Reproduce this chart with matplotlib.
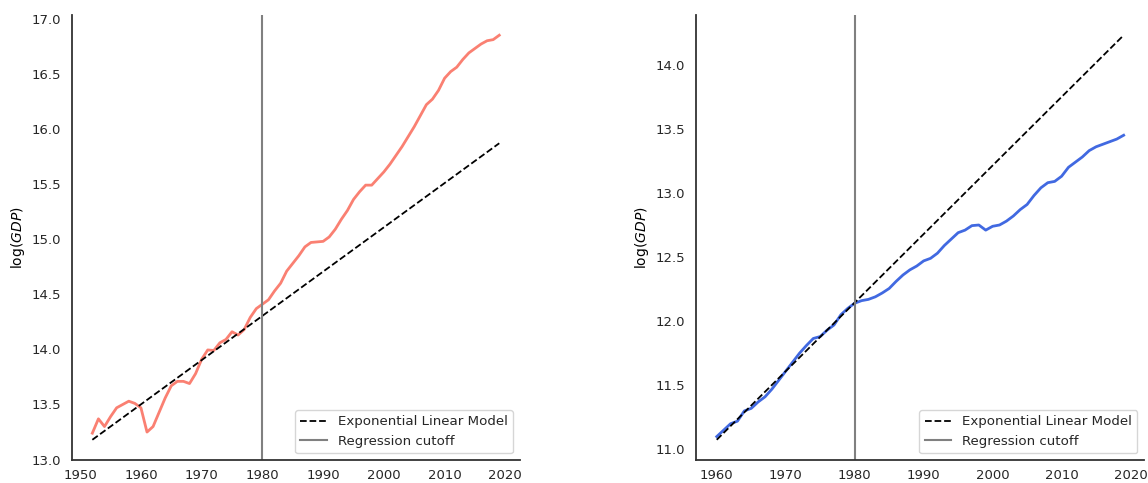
import numpy as np
import matplotlib
matplotlib.use("Agg")
import matplotlib.pyplot as plt

# left panel: log GDP 1952-2019
years_a = np.arange(1952, 2020)
log_gdp_a = [13.24, 13.37, 13.30, 13.39, 13.47, 13.50, 13.53, 13.51, 13.47, 13.25,
             13.30, 13.43, 13.56, 13.67, 13.71, 13.71, 13.69, 13.78, 13.91, 13.995,
             13.99, 14.06, 14.09, 14.16, 14.13, 14.18, 14.29, 14.37, 14.41, 14.45,
             14.53, 14.60, 14.71, 14.78, 14.85, 14.93, 14.97, 14.975, 14.98, 15.02,
             15.09, 15.18, 15.26, 15.36, 15.43, 15.49, 15.49, 15.55, 15.61, 15.68,
             15.76, 15.84, 15.93, 16.02, 16.12, 16.22, 16.27, 16.35, 16.46, 16.52,
             16.56, 16.63, 16.69, 16.73, 16.77, 16.80, 16.81, 16.85]
trend_years_a = [1952, 2019]
trend_a = [13.18, 15.87]

# right panel: log GDP 1960-2019
years_b = np.arange(1960, 2020)
log_gdp_b = [11.10, 11.15, 11.20, 11.22, 11.30, 11.32, 11.37, 11.41, 11.47, 11.54,
             11.61, 11.68, 11.75, 11.81, 11.865, 11.88, 11.93, 11.97, 12.05, 12.10,
             12.14, 12.16, 12.17, 12.19, 12.22, 12.255, 12.31, 12.36, 12.40, 12.43,
             12.47, 12.49, 12.53, 12.59, 12.64, 12.69, 12.71, 12.745, 12.75, 12.71,
             12.74, 12.75, 12.78, 12.82, 12.87, 12.91, 12.98, 13.04, 13.08, 13.09,
             13.13, 13.20, 13.24, 13.28, 13.33, 13.36, 13.38, 13.40, 13.42, 13.45]
trend_years_b = [1960, 2019]
trend_b = [11.075, 14.23]

cutoff = 1980

plt.rcParams['font.family'] = ['DejaVu Sans']
plt.rcParams['mathtext.fontset'] = 'dejavusans'

fig, axes = plt.subplots(1, 2, figsize=(11.48, 4.83), dpi=100)
fig.subplots_adjust(left=72/1148, right=1144/1148, top=1-15/483, bottom=1-460/483, wspace=0.395)

panels = [
    (axes[0], years_a, log_gdp_a, trend_years_a, trend_a, '#FA8072', np.arange(13.0, 17.01, 0.5)),
    (axes[1], years_b, log_gdp_b, trend_years_b, trend_b, '#4169E1', np.arange(11.0, 14.01, 0.5)),
]

for ax, yrs, vals, ty, tv, col, yt in panels:
    ax.plot(yrs, vals, color=col, lw=2)
    ax.plot(ty, tv, color='black', ls='--', lw=1.3, label='Exponential Linear Model')
    ax.axvline(cutoff, color='grey', lw=1.5, label='Regression cutoff')
    ax.set_yticks(yt)
    ax.set_ylabel(r'$\log(GDP)$', fontsize=10, labelpad=3)
    ax.tick_params(length=0, labelsize=9.5, colors='#262626')
    ax.tick_params(axis='y', pad=8)
    ax.tick_params(axis='x', pad=6.5)
    for s in ['top', 'right']:
        ax.spines[s].set_visible(False)
    for s in ['left', 'bottom']:
        ax.spines[s].set_color('#333333')
        ax.spines[s].set_linewidth(1.3)
    leg = ax.legend(loc='lower right', fontsize=9.6, frameon=True, fancybox=True)
    leg.get_frame().set_edgecolor('#cccccc')
    for t in leg.get_texts():
        t.set_color('#262626')

axes[0].set_xticks(np.arange(1950, 2021, 10))
axes[1].set_xticks(np.arange(1960, 2021, 10))

fig.savefig('out.png', dpi=100)
